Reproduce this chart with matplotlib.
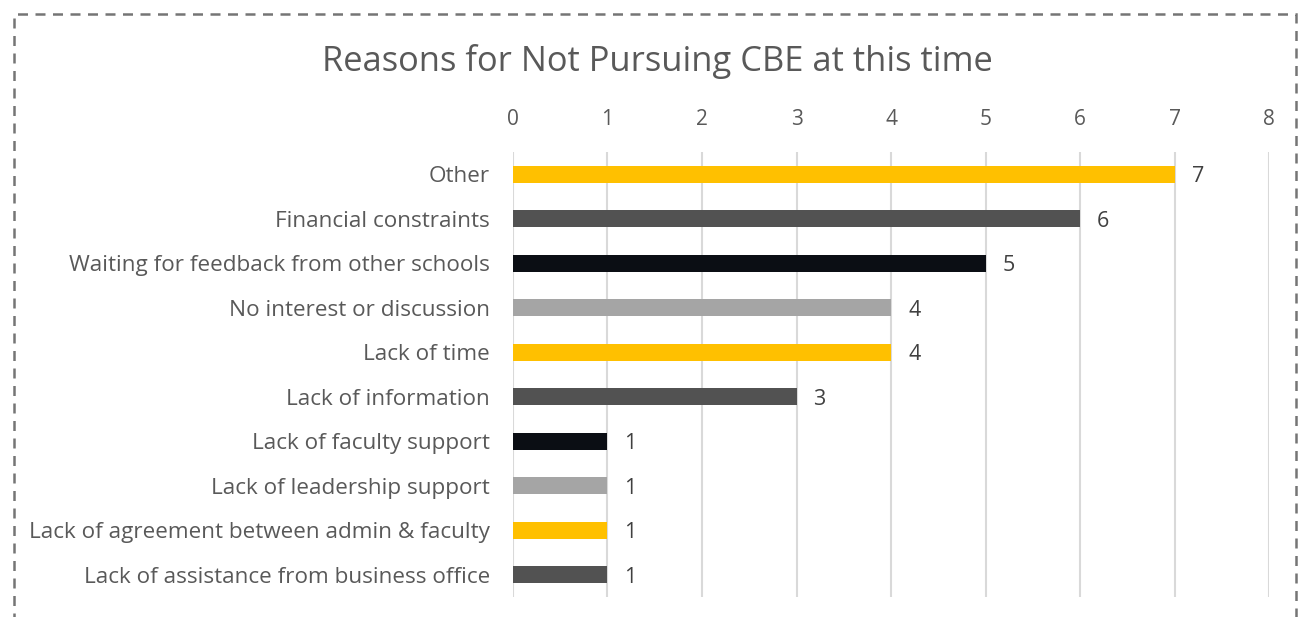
import matplotlib
matplotlib.use('Agg')
import matplotlib.pyplot as plt
from matplotlib.patches import Rectangle

# data, top to bottom as shown
categories = ['Other', 'Financial constraints', 'Waiting for feedback from other schools',
              'No interest or discussion', 'Lack of time', 'Lack of information',
              'Lack of faculty support', 'Lack of leadership support',
              'Lack of agreement between admin & faculty', 'Lack of assistance from business office']
counts = [7, 6, 5, 4, 4, 3, 1, 1, 1, 1]
palette = ['#FFC000', '#525252', '#0B0E14', '#A5A5A5']
xticks = list(range(0, 9))

plt.rcParams['font.family'] = ['Open Sans', 'DejaVu Sans']

fig = plt.figure(figsize=(13, 6.17), dpi=100)
ax = fig.add_axes([0.3946, 0.0324, 0.5816, 0.7212])

ypos = list(range(len(categories)))
colors = [palette[i % len(palette)] for i in ypos]
ax.barh(ypos, counts, height=0.38, color=colors, zorder=3)

for y, v in zip(ypos, counts):
    ax.text(v + 0.18, y, str(v), va='center_baseline', ha='left', fontsize=15.5, color='#404040')

ax.set_ylim(len(categories) - 0.5, -0.5)
ax.set_xlim(0, 8)
ax.set_xticks(xticks)
ax.xaxis.tick_top()
ax.tick_params(axis='x', length=0, pad=16, labelsize=15, labelcolor='#595959')
ax.tick_params(axis='y', length=0, pad=16.5, labelsize=16.2, labelcolor='#595959')
ax.set_yticks(ypos)
ax.set_yticklabels(categories)
ax.grid(axis='x', color='#D9D9D9', linewidth=1.5, zorder=0)
for s in ax.spines.values():
    s.set_visible(False)

fig.text(0.506, 0.9, 'Reasons for Not Pursuing CBE at this time', ha='center', va='center',
         fontsize=24.8, color='#595959')

# dashed frame around the chart
fig.patches.append(Rectangle((0.0105, -0.1), 0.9865, 1.078, transform=fig.transFigure,
                             fill=False, edgecolor='#757575', linestyle=(0, (4, 3)),
                             linewidth=1.8, clip_on=False))

fig.savefig('out.png', dpi=100)
